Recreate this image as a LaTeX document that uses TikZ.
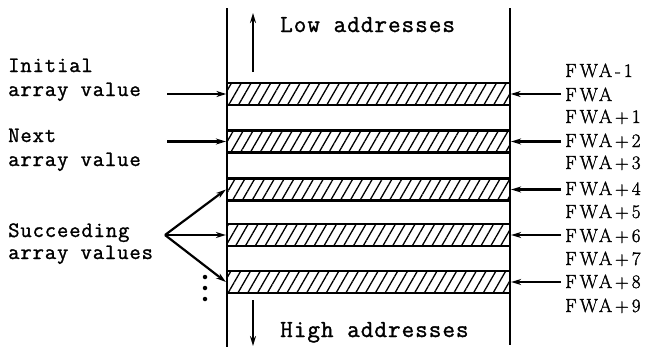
\documentclass[tikz,border=0pt]{standalone}
\usepackage{fontspec}
\usetikzlibrary{patterns.meta,arrows.meta}
\newfontfamily\twfont{Latin Modern Mono}[FakeBold=1.3,LetterSpace=4]
\newfontfamily\fwfont{Latin Modern Roman}[FakeBold=1.5,LetterSpace=16]
\begin{document}
\begin{tikzpicture}[x=1pt,y=-1pt,
  wall/.style={line width=2.2pt},
  bar/.style={draw, line width=2.2pt, minimum width=283pt, minimum height=22pt, inner sep=0pt,
    pattern={Lines[angle=60,distance=8.5pt,line width=1.3pt]}},
  arr/.style={-{Stealth[length=10pt,width=6pt]}, line width=2.2pt},
  lbl/.style={font=\twfont\fontsize{22}{26}\selectfont, anchor=base west, inner sep=0pt},
  fwa/.style={font=\fwfont\fontsize{19}{22}\selectfont, anchor=base west, inner sep=0pt},
  dot/.style={circle, fill, inner sep=0pt, minimum size=4.5pt}]
\useasboundingbox (0,0) rectangle (652,348);
% walls
\coordinate (lt) at (227,8); \coordinate (lb) at (227,347);
\coordinate (rt) at (510,8); \coordinate (rb) at (510,345);
\draw[wall] (lt) -- (lb);
\draw[wall] (rt) -- (rb);
% bars
\node[bar] (b1) at (368.5,94) {};
\node[bar] (b2) at (368.5,141.5) {};
\node[bar] (b3) at (368.5,189.5) {};
\node[bar] (b4) at (368.5,235) {};
\node[bar] (b5) at (368.5,282) {};
% up / down arrows
\coordinate (u1) at (253,72); \coordinate (u2) at (253,13);
\coordinate (d1) at (253,300); \coordinate (d2) at (253,346);
\draw[arr] (u1) -- (u2);
\draw[arr] (d1) -- (d2);
\node[lbl, font=\twfont\fontsize{24.5}{28}\selectfont] (low) at (280,32) {Low addresses};
\node[lbl, font=\twfont\fontsize{24.5}{28}\selectfont] (high) at (280,337) {High addresses};
% left labels
\node[lbl] (ini1) at (8,72) {Initial};
\node[lbl] (ini2) at (8,96) {array value};
\node[lbl] (nxt1) at (8,142) {Next};
\node[lbl] (nxt2) at (8,166) {array value};
\node[lbl] (suc1) at (8,237) {Succeeding};
\node[lbl] (suc2) at (8,259) {array values};
\coordinate (ia) at (167,94);
\coordinate (na) at (167,141.5);
\coordinate (sa) at (165,235);
\draw[arr] (ia) -- (b1.west);
\draw[arr] (na) -- (b2.west);
\draw[arr] (sa) -- (b3.west);
\draw[arr] (sa) -- (b4.west);
\draw[arr] (sa) -- (b5.west);
\node[dot] (p1) at (205,277) {};
\node[dot] (p2) at (205,288) {};
\node[dot] (p3) at (205,299) {};
% right arrows
\coordinate (r1) at (561,94);
\coordinate (r2) at (561,141.5);
\coordinate (r3) at (561,189.5);
\coordinate (r4) at (561,235);
\coordinate (r5) at (561,282);
\draw[arr] (r1) -- (b1.east);
\draw[arr] (r2) -- (b2.east);
\draw[arr] (r3) -- (b3.east);
\draw[arr] (r4) -- (b4.east);
\draw[arr] (r5) -- (b5.east);
% right labels
\node[fwa] (f0) at (565,77) {FWA-1};
\node[fwa] (f1) at (565,101) {FWA};
\node[fwa] (f2) at (565,123) {FWA+1};
\node[fwa] (f3) at (565,147) {FWA+2};
\node[fwa] (f4) at (565,169) {FWA+3};
\node[fwa] (f5) at (565,195) {FWA+4};
\node[fwa] (f6) at (565,218) {FWA+5};
\node[fwa] (f7) at (565,242) {FWA+6};
\node[fwa] (f8) at (565,265) {FWA+7};
\node[fwa] (f9) at (565,288) {FWA+8};
\node[fwa] (f10) at (565,312) {FWA+9};
\end{tikzpicture}
\end{document}
